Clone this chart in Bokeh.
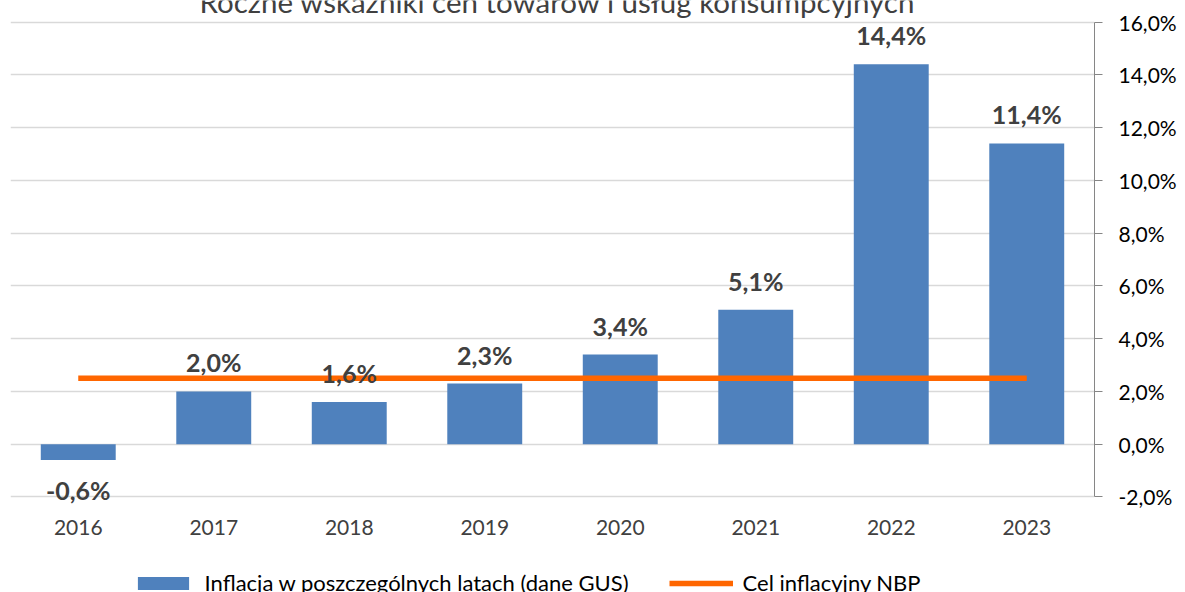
from bokeh.plotting import figure
from bokeh.models import (ColumnDataSource, FactorRange, Range1d, FixedTicker,
                          CustomJSTickFormatter, Legend, LegendItem, Label)
from bokeh.core.properties import value
from bokeh.embed import file_html
from bokeh.resources import INLINE

years = ["2016", "2017", "2018", "2019", "2020", "2021", "2022", "2023"]
inflation = [-0.6, 2.0, 1.6, 2.3, 3.4, 5.1, 14.4, 11.4]
nbp_target = [2.5, 2.5, 2.5, 2.5, 2.5, 2.5, 2.5, 2.5]
y_ticks = [-2, 0, 2, 4, 6, 8, 10, 12, 14, 16]

FONT = "Lato"

labels = [f"{v:.1f}".replace(".", ",") + "%" for v in inflation]
offsets = [-29 if v >= 0 else 30 for v in inflation]
src = ColumnDataSource(dict(x=years, y=inflation, t=nbp_target, lab=labels, off=offsets))

# the plot frame spans the whole canvas height; the axis itself covers -2..16
p = figure(width=1185, height=592, x_range=FactorRange(*years, range_padding=0),
           y_range=Range1d(-5.619, 16.815), y_axis_location="right", x_axis_location=None,
           output_backend="svg", toolbar_location=None,
           min_border_left=10, min_border_top=0, min_border_right=91, min_border_bottom=0)
p.outline_line_color = None
p.background_fill_color = "white"

bars = p.vbar(x="x", top="y", bottom=0, width=0.553, source=src,
              fill_color="#4F81BD", line_color=None)
line = p.line(x="x", y="t", source=src, line_color="#FF6600", line_width=5.5)

# value labels
p.text(x="x", y="y", text="lab", source=src, y_offset="off",
       text_align="center", text_baseline="middle",
       text_font=value(FONT), text_font_style="bold", text_font_size="25px",
       text_color="#404040")

# category (year) labels under the axis floor
p.text(x="x", y=-2, text="x", source=src, y_offset=30,
       text_align="center", text_baseline="middle",
       text_font=value(FONT), text_font_size="21px", text_color="#404040")

p.xgrid.grid_line_color = None

ya = p.yaxis[0]
ya.ticker = FixedTicker(ticks=y_ticks)
ya.bounds = (-2, 16)
ya.formatter = CustomJSTickFormatter(code="return tick.toFixed(1).replace('.', ',') + '%';")
ya.axis_line_color = "#868686"
ya.major_tick_line_color = "#868686"
ya.major_tick_out = 8
ya.major_tick_in = 0
ya.minor_tick_line_color = None
ya.major_label_standoff = 16
ya.major_label_text_font = FONT
ya.major_label_text_font_size = "21px"
ya.major_label_text_color = "#000000"
p.ygrid.ticker = FixedTicker(ticks=y_ticks)
p.ygrid.grid_line_color = "#D9D9D9"
p.ygrid.grid_line_width = 1.5

# title (cut off at top in reference)
title = Label(x=547, y=591, x_units="screen", y_units="screen",
              text="Roczne wskaźniki cen towarów i usług konsumpcyjnych",
              text_align="center", text_baseline="alphabetic",
              text_font=FONT, text_font_size="29.5px", text_color="#404040")
p.add_layout(title)

legend = Legend(items=[
    LegendItem(label="Inflacja w poszczególnych latach (dane GUS)", renderers=[bars]),
    LegendItem(label="Cel inflacyjny NBP", renderers=[line]),
], orientation="horizontal", location=(120.6, -4),
    glyph_width=64, glyph_height=16, label_standoff=10, spacing=40,
    padding=0, margin=0, border_line_color=None, background_fill_alpha=0,
    label_text_font=FONT, label_text_font_size="22px", label_text_color="#000000")
p.add_layout(legend, "center")

open("out.html", "w").write(file_html(p, INLINE))
